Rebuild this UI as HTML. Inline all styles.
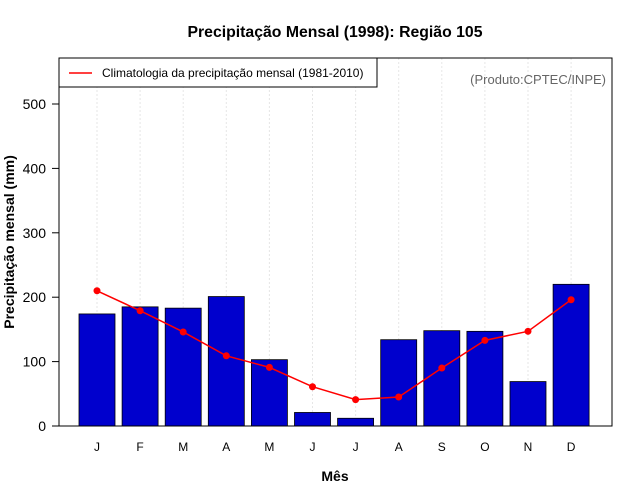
<!DOCTYPE html>
<html><head><meta charset="utf-8"><style>body{margin:0;background:#fff}svg{display:block;font-family:"Liberation Sans",sans-serif}</style></head>
<body>
<svg id="chart" width="640" height="500">
<text x="335" y="37" text-anchor="middle" font-size="15.8" font-weight="bold">Precipitação Mensal (1998): Região 105</text>
<g id="grid"></g><g id="bars"></g><g id="line"></g><g id="axes"></g>
<rect x="59" y="58" width="553" height="368" fill="none" stroke="#000"/>
<g>
<rect x="59" y="58" width="318" height="29" fill="#fff" stroke="#000"/>
<line x1="69" y1="73" x2="92" y2="73" stroke="red" stroke-width="1.5"/>
<text x="102" y="77" font-size="12">Climatologia da precipitação mensal (1981-2010)</text>
</g>
<text x="606" y="84" text-anchor="end" font-size="13" fill="#666">(Produto:CPTEC/INPE)</text>
<text x="335" y="481" text-anchor="middle" font-size="14" font-weight="bold">Mês</text>
<text transform="translate(14,242) rotate(-90)" text-anchor="middle" font-size="14" font-weight="bold">Precipitação mensal (mm)</text>
</svg>
<script>
const months=["J","F","M","A","M","J","J","A","S","O","N","D"];
const observed=[174,185,183,201,103,21,12,134,148,147,69,220];
const climatology=[210,179,146,109,91,61,41,45,90,133,147,196];
const yTicks=[0,100,200,300,400,500];
const NS="http://www.w3.org/2000/svg";
const y=v=>426-v*0.644;
const xc=i=>97+i*43.1;
const bw=36;
function mk(t,a,p){const e=document.createElementNS(NS,t);for(const k in a)e.setAttribute(k,a[k]);p.appendChild(e);return e;}
const G=document.getElementById('grid'),B=document.getElementById('bars'),L=document.getElementById('line'),A=document.getElementById('axes');
months.forEach((m,i)=>{
 const g=mk('line',{x1:xc(i),x2:xc(i),y1:58,y2:426,stroke:'#e6e6e6','stroke-dasharray':'2,2'},G);
 
 
 const r=mk('rect',{x:xc(i)-bw/2,y:y(observed[i]),width:bw,height:426-y(observed[i]),fill:'#0000cd',stroke:'#000','stroke-width':0.8},B);
 
 
 const t=mk('text',{x:xc(i),y:451,'text-anchor':'middle','font-size':12},A);
 t.textContent=m;
 
 
});
const pl=mk('polyline',{points:climatology.map((v,i)=>xc(i)+','+y(v)).join(' '),fill:'none',stroke:'red','stroke-width':1.5},L);


climatology.forEach((v,i)=>{
 const c=mk('circle',{cx:xc(i),cy:y(v),r:3.5,fill:'red'},L);
 
 
});
const ax=mk('line',{x1:59,x2:59,y1:y(0),y2:y(500),stroke:'#000'},A);


yTicks.forEach(v=>{
 const tk=mk('line',{x1:52,x2:59,y1:y(v),y2:y(v),stroke:'#000'},A);
 
 
 const t=mk('text',{x:46,y:y(v)+5,'text-anchor':'end','font-size':14},A);
 t.textContent=v;
 
 
});
</script>
</body></html>
